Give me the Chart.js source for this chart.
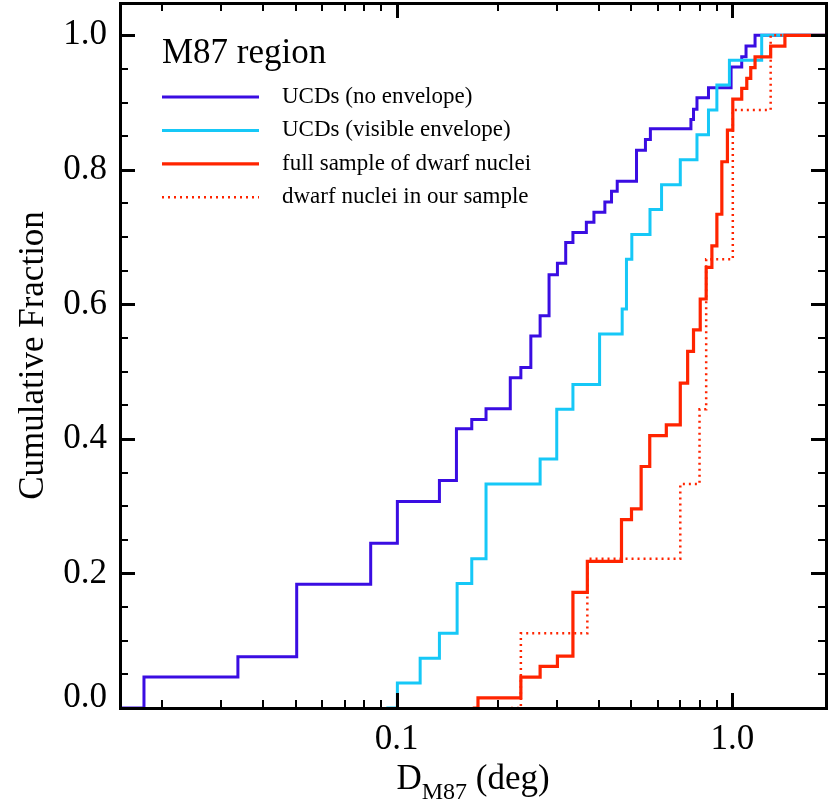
<!DOCTYPE html>
<html>
<head>
<meta charset="utf-8">
<script src="https://cdn.jsdelivr.net/npm/chart.js@4.4.1/dist/chart.umd.min.js"></script>
<style>
html,body{margin:0;padding:0;background:#fff;}
#wrap{width:831px;height:808px;position:relative;}
</style>
</head>
<body>
<div id="wrap"><canvas id="c" width="831" height="808"></canvas></div>
<script>
// ---- data ----
const seriesLabels = ['UCDs (no envelope)', 'UCDs (visible envelope)', 'full sample of dwarf nuclei', 'dwarf nuclei in our sample'];

const ucdNoEnvX = [0.01, 0.01768, 0.03367, 0.05039, 0.0837, 0.1005, 0.1341, 0.1507, 0.1674, 0.1846, 0.2180, 0.2344, 0.2510, 0.2675, 0.2844, 0.3012, 0.3188, 0.3350, 0.3673, 0.3869, 0.4170, 0.4365, 0.4539, 0.5181, 0.5508, 0.5698, 0.7524, 0.7659, 0.7843, 0.8487, 0.991, 1.066, 1.098, 1.168, 2.5];
const ucdNoEnvY = [0, 0.046, 0.076, 0.184, 0.245, 0.307, 0.338, 0.415, 0.429, 0.445, 0.491, 0.506, 0.553, 0.583, 0.644, 0.661, 0.692, 0.707, 0.722, 0.737, 0.752, 0.768, 0.783, 0.829, 0.845, 0.861, 0.875, 0.890, 0.907, 0.922, 0.953, 0.968, 0.984, 1.0, 1.0];

const ucdEnvX = [0.0932, 0.1005, 0.1175, 0.1341, 0.1514, 0.1674, 0.1846, 0.2675, 0.2998, 0.3350, 0.4022, 0.4696, 0.4836, 0.5017, 0.5683, 0.6152, 0.6995, 0.7843, 0.8487, 0.8990, 0.9797, 1.2224, 2.5];
const ucdEnvY = [0, 0.037, 0.074, 0.111, 0.185, 0.222, 0.333, 0.370, 0.444, 0.481, 0.556, 0.593, 0.667, 0.704, 0.741, 0.778, 0.815, 0.852, 0.889, 0.926, 0.963, 1.0, 1.0];

const dwarfAllX = [0.1685, 0.1747, 0.2344, 0.2675, 0.3012, 0.3350, 0.3698, 0.4674, 0.5006, 0.5348, 0.5673, 0.6356, 0.6995, 0.7357, 0.7659, 0.8020, 0.8354, 0.8688, 0.8990, 0.9301, 0.9664, 1.0027, 1.066, 1.1036, 1.1340, 1.168, 1.300, 1.4334, 2.5];
const dwarfAllY = [0, 0.015, 0.046, 0.062, 0.077, 0.172, 0.218, 0.280, 0.296, 0.359, 0.405, 0.421, 0.483, 0.530, 0.562, 0.608, 0.655, 0.687, 0.734, 0.812, 0.859, 0.905, 0.921, 0.936, 0.952, 0.968, 0.984, 1.0, 1.0];

const dwarfOursX = [0.2189, 0.2344, 0.3698, 0.6995, 0.7982, 0.8354, 1.0027, 1.300, 2.5];
const dwarfOursY = [0, 0.111, 0.222, 0.333, 0.444, 0.667, 0.889, 1.0, 1.0];

const xTickLabels = [0.1, 1.0];
const xMinorTicks = [0.02, 0.03, 0.04, 0.05, 0.06, 0.07, 0.08, 0.09, 0.2, 0.3, 0.4, 0.5, 0.6, 0.7, 0.8, 0.9];
const yTickLabels = [0.0, 0.2, 0.4, 0.6, 0.8, 1.0];
const yMinorTicks = [0.05, 0.1, 0.15, 0.25, 0.3, 0.35, 0.45, 0.5, 0.55, 0.65, 0.7, 0.75, 0.85, 0.9, 0.95];

const legendTitle = 'M87 region';
const xTitleMain = 'D', xTitleSub = 'M87', xTitleTail = ' (deg)';
const yTitle = 'Cumulative Fraction';

// ---- build ----
const pts = (xs, ys) => xs.map((x, i) => ({x: x, y: ys[i]}));
const FONT = "'Liberation Serif', 'Times New Roman', serif";
Chart.defaults.font.family = FONT;
Chart.defaults.color = '#000';

const datasets = [
  {label: seriesLabels[0], data: pts(ucdNoEnvX, ucdNoEnvY), borderColor: '#3a0de2', borderWidth: 3, order: 4},
  {label: seriesLabels[1], data: pts(ucdEnvX, ucdEnvY), borderColor: '#16c8f7', borderWidth: 3, order: 3},
  {label: seriesLabels[2], data: pts(dwarfAllX, dwarfAllY), borderColor: '#ff2400', borderWidth: 3.2, order: 2},
  {label: seriesLabels[3], data: pts(dwarfOursX, dwarfOursY), borderColor: '#ff2400', borderWidth: 2.5, borderDash: [2, 4], order: 1}
].map(d => Object.assign({stepped: 'before', pointRadius: 0, fill: false, tension: 0, borderCapStyle: 'butt'}, d));

function hline(ctx, x1, x2, y, w) { ctx.beginPath(); ctx.moveTo(x1, y); ctx.lineTo(x2, y); ctx.lineWidth = w; ctx.stroke(); }

// inward tick marks on all four sides, placed through the scales
const ticksPlugin = {
  id: 'inTicks',
  afterDraw(chart) {
    const ctx = chart.ctx, a = chart.chartArea, sx = chart.scales.x, sy = chart.scales.y;
    ctx.save();
    ctx.fillStyle = '#000';
    ctx.fillRect(a.left - 1, a.top - 1, a.right - a.left + 3, 3);
    ctx.fillRect(a.left - 1, a.bottom - 1, a.right - a.left + 3, 3);
    ctx.fillRect(a.left - 1, a.top - 1, 3, a.bottom - a.top + 3);
    ctx.fillRect(a.right - 1, a.top - 1, 3, a.bottom - a.top + 3);
    const L = a.left, R = a.right, T = a.top, B = a.bottom;
    for (const v of xTickLabels) { const p = Math.round(sx.getPixelForValue(v)); ctx.fillRect(p - 1, B - 15, 3, 15); ctx.fillRect(p - 1, T, 3, 15); }
    for (const v of xMinorTicks) { const p = Math.round(sx.getPixelForValue(v)); ctx.fillRect(p - 1, B - 8, 2, 8); ctx.fillRect(p - 1, T, 2, 8); }
    for (const v of yTickLabels) { const p = Math.round(sy.getPixelForValue(v)); ctx.fillRect(L, p - 1, 15, 3); ctx.fillRect(R - 15, p - 1, 15, 3); }
    for (const v of yMinorTicks) { const p = Math.round(sy.getPixelForValue(v)); ctx.fillRect(L, p - 1, 8, 2); ctx.fillRect(R - 8, p - 1, 8, 2); }
    ctx.restore();
  }
};

const textPlugin = {
  id: 'texts',
  afterDraw(chart) {
    const ctx = chart.ctx, a = chart.chartArea, sy = chart.scales.y;
    ctx.save();
    ctx.fillStyle = '#000';
    // bottom y label, raised off the x axis as in the reference
    ctx.font = '35px ' + FONT;
    ctx.textAlign = 'right';
    ctx.textBaseline = 'middle';
    ctx.fillText(yTickLabels[0].toFixed(1), a.left - 13, sy.getPixelForValue(yTickLabels[0]) - 10);

    // legend (inside plot)
    ctx.textAlign = 'left';
    ctx.textBaseline = 'alphabetic';
    ctx.font = '35px ' + FONT;
    ctx.fillText(legendTitle, 162, 63);
    ctx.font = '23px ' + FONT;
    ctx.textBaseline = 'middle';
    chart.data.datasets.forEach((d, i) => {
      const ly = 97 + 33.4 * i;
      ctx.strokeStyle = d.borderColor;
      ctx.setLineDash(d.borderDash || []);
      hline(ctx, 162, 259, ly, d.borderWidth);
      ctx.fillText(d.label, 282, ly);
    });
    ctx.setLineDash([]);

    // x-axis title with subscript, centred on the axis
    ctx.textBaseline = 'alphabetic';
    ctx.font = '35px ' + FONT;
    const w1 = ctx.measureText(xTitleMain).width, w3 = ctx.measureText(xTitleTail).width;
    ctx.font = '24px ' + FONT;
    const w2 = ctx.measureText(xTitleSub).width;
    let tx = (a.left + a.right) / 2 - (w1 + w2 + w3) / 2;
    ctx.font = '35px ' + FONT;
    ctx.fillText(xTitleMain, tx, 789);
    tx += w1;
    ctx.font = '24px ' + FONT;
    ctx.fillText(xTitleSub, tx, 799);
    tx += w2;
    ctx.font = '35px ' + FONT;
    ctx.fillText(xTitleTail, tx, 789);
    ctx.restore();
  }
};

new Chart(document.getElementById('c'), {
  type: 'line',
  data: {datasets: datasets},
  options: {
    responsive: false,
    animation: false,
    layout: {padding: {left: 0, top: 3, right: 5, bottom: 0}},
    plugins: {legend: {display: false}, tooltip: {enabled: false}},
    scales: {
      x: {
        type: 'logarithmic', min: 0.015, max: 1.9,
        grid: {display: false, drawTicks: false}, border: {display: false},
        ticks: {font: {size: 35}, padding: 11, autoSkip: false, maxRotation: 0, callback: v => Number(v).toFixed(1)},
        afterBuildTicks: s => { s.ticks = xTickLabels.map(v => ({value: v})); },
        afterFit: s => { s.height = 100; s.paddingLeft = 0; s.paddingRight = 0; }
      },
      y: {
        type: 'linear', min: 0, max: 1.048,
        grid: {display: false, drawTicks: false}, border: {display: false},
        ticks: {font: {size: 35}, padding: 13, callback: v => (v === 0 ? '' : Number(v).toFixed(1))},
        afterBuildTicks: s => { s.ticks = yTickLabels.map(v => ({value: v})); },
        afterFit: s => { s.width = 120; s.paddingTop = 0; s.paddingBottom = 0; },
        title: {display: true, text: yTitle, font: {size: 35}, padding: {top: 13, bottom: 0}}
      }
    }
  },
  plugins: [ticksPlugin, textPlugin]
});
</script>
</body>
</html>
